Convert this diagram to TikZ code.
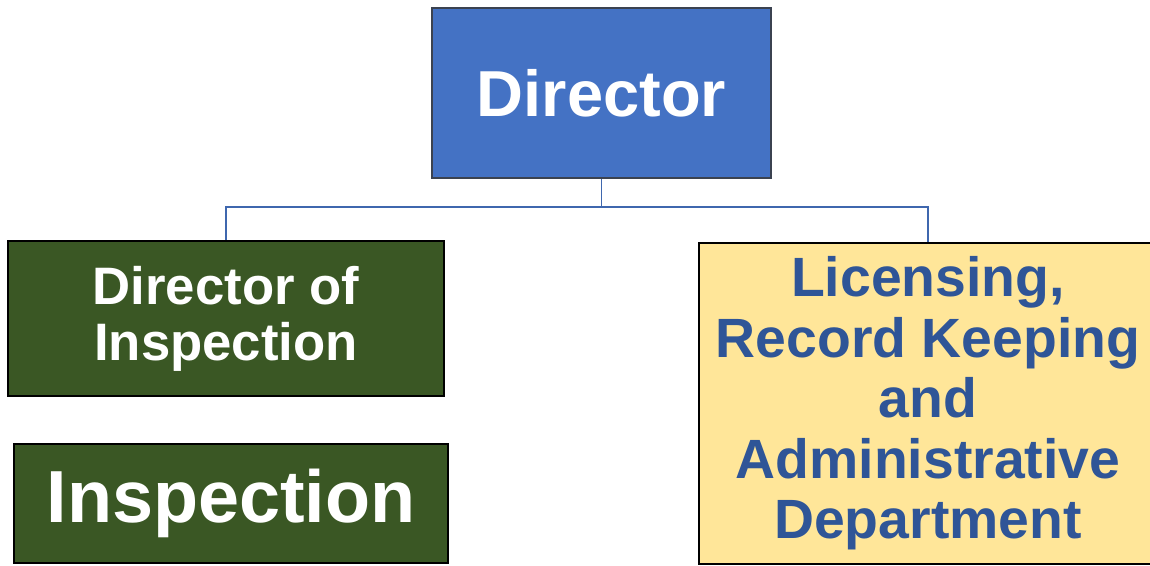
\documentclass[tikz,border=0pt]{standalone}
\usepackage{fontspec}
\setmainfont{Liberation Sans}
\definecolor{dirblue}{HTML}{4472C4}
\definecolor{dirline}{HTML}{3B4250}
\definecolor{inspgreen}{HTML}{3A5724}
\definecolor{licyellow}{HTML}{FFE699}
\definecolor{lictext}{HTML}{2F5597}
\definecolor{linkblue}{HTML}{3F67AE}
\tikzset{
  box/.style={rectangle, draw, line width=1.6pt, inner sep=0pt, align=center, font=\bfseries},
  topbox/.style={box, fill=dirblue, draw=dirline, text=white},
  greenbox/.style={box, fill=inspgreen, draw=black, text=white},
  yellowbox/.style={box, fill=licyellow, draw=black, text=lictext},
  link/.style={draw=linkblue, line width=1.1pt},
}
\begin{document}
\begin{tikzpicture}[x=0.02cm,y=-0.02cm]
\useasboundingbox (0,0) rectangle (1150,565);
\clip (0,0) rectangle (1150,565);
%
% Director
\node [topbox, minimum width=339*0.02cm, minimum height=170*0.02cm,
       font=\bfseries\fontsize{37}{40}\selectfont] (dir) at (601.5,93) {Director};
%
% Director of Inspection
\node [greenbox, minimum width=436*0.02cm, minimum height=155*0.02cm,
       font=\bfseries\fontsize{30}{32}\selectfont] (doi) at (226,318.5) {Director of\\Inspection};
%
% Inspection
\node [greenbox, minimum width=434*0.02cm, minimum height=119*0.02cm,
       font=\bfseries\fontsize{42}{46}\selectfont] (insp) at (231,503.5) {Inspection};
%
% Licensing
\node [yellowbox, minimum width=458*0.02cm, minimum height=321*0.02cm,
       font=\bfseries\fontsize{31.5}{34.4}\selectfont] (lic) at (928,403.5)
      {Licensing,\\Record Keeping\\and\\Administrative\\Department};
%
% Connectors
\coordinate (bus) at (dir.south |- 0,207);
\draw [link] (dir.south) -- (bus) -| (doi.north);
\draw [link] (bus) -| (lic.north);
%
\end{tikzpicture}
\end{document}
